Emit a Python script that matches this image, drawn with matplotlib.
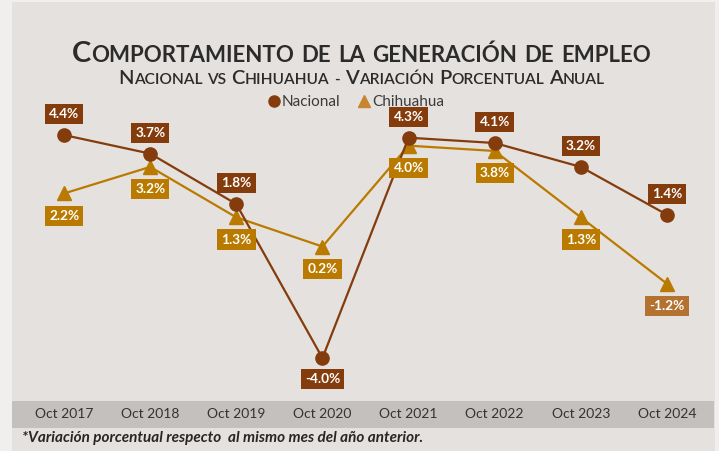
import matplotlib
matplotlib.use("Agg")
import matplotlib.pyplot as plt
from matplotlib.lines import Line2D
from matplotlib.patches import Rectangle

plt.rcParams['font.family'] = ['Lato', 'DejaVu Sans']

# Data
years = ["Oct 2017", "Oct 2018", "Oct 2019", "Oct 2020",
         "Oct 2021", "Oct 2022", "Oct 2023", "Oct 2024"]
nacional = [4.4, 3.7, 1.8, -4.0, 4.3, 4.1, 3.2, 1.4]
chihuahua = [2.2, 3.2, 1.3, 0.2, 4.0, 3.8, 1.3, -1.2]

c_nac = '#843C0C'
c_chi = '#BA7A00'
W, H = 719, 451

fig = plt.figure(figsize=(W / 100, H / 100), dpi=100)
fig.patch.set_facecolor('#F0EFEE')

# background panel and category band
fig.patches.append(Rectangle((12 / W, 0), 703 / W, 449 / H, transform=fig.transFigure,
                             facecolor='#E5E1DE', edgecolor='none', zorder=-2))
fig.patches.append(Rectangle((12 / W, (H - 428) / H), 702 / W, 27 / H, transform=fig.transFigure,
                             facecolor='#C4C0BD', edgecolor='none', zorder=-1))

ax = fig.add_axes([21 / W, (H - 400) / H, 689 / W, 300 / H])
ax.patch.set_alpha(0)
x = list(range(len(years)))

ax.plot(x, chihuahua, color=c_chi, lw=1.6, marker='^', ms=10, zorder=3)
ax.plot(x, nacional, color=c_nac, lw=1.6, marker='o', ms=9.5, zorder=4)

box = dict(boxstyle='square,pad=0.3', edgecolor='none')
for i, v in enumerate(nacional):
    dy = 15 if v >= 0 else -15
    ax.annotate(f"{v:.1f}%", (i, v), xytext=(0, dy), textcoords='offset points',
                ha='center', va='center', color='white', fontsize=9.8, fontweight='bold',
                bbox=dict(box, facecolor=c_nac), zorder=5)
for i, v in enumerate(chihuahua):
    fc = c_chi if v >= 0 else '#B3722F'
    ax.annotate(f"{v:.1f}%", (i, v), xytext=(0, -16), textcoords='offset points',
                ha='center', va='center', color='white', fontsize=9.8, fontweight='bold',
                bbox=dict(box, facecolor=fc), zorder=5)

ax.set_xlim(-0.5, 7.5)
ax.set_ylim(-5.58, 5.72)
ax.set_xticks(x, years)
ax.tick_params(axis='x', length=0, pad=6, labelsize=10, labelcolor='#333333')
ax.set_yticks([])
for s in ax.spines.values():
    s.set_visible(False)

# legend
handles = [Line2D([], [], ls='none', marker='o', ms=8, color=c_nac),
           Line2D([], [], ls='none', marker='^', ms=9, color='#C8842E')]
fig.legend(handles, ['Nacional', 'Chihuahua'], loc='center', bbox_to_anchor=(355 / W, (H - 102) / H),
           ncol=2, frameon=False, fontsize=11, handletextpad=0.05, columnspacing=1.0,
           handlelength=1.0, labelcolor='#3A3A3A')


# small caps titles
def small_caps(text, y_px, big, small, weight):
    r = fig.canvas.get_renderer()
    words = []
    for word in text.split(' '):
        runs = []
        for ch in word:
            is_big = ch.isupper()
            if runs and runs[-1][0] == is_big:
                runs[-1][1] += ch
            else:
                runs.append([is_big, ch])
        pieces = []
        for is_big, s in runs:
            t = fig.text(0, 0, s.upper(), fontsize=big if is_big else small,
                         fontweight=weight, color='#2B2B2B', va='baseline')
            pieces.append((t, t.get_window_extent(r).width))
        words.append(pieces)
    gap = small * 0.32 * 100 / 72
    total = sum(w for p in words for _, w in p) + gap * (len(words) - 1)
    xp = (W - total) / 2 + 2
    for pieces in words:
        for t, w in pieces:
            t.set_position((xp / W, (H - y_px) / H))
            xp += w
        xp += gap


small_caps("Comportamiento de la generación de empleo", 62, 21, 16, 'bold')
small_caps("Nacional vs Chihuahua - Variación Porcentual Anual", 84, 14.5, 11.2, 'semibold')

fig.text(22 / W, (H - 438) / H, "*Variación porcentual respecto  al mismo mes del año anterior.",
         fontsize=11, fontweight='bold', style='italic', color='#262626', va='center')

fig.savefig('out.png', dpi=100, facecolor=fig.get_facecolor())
